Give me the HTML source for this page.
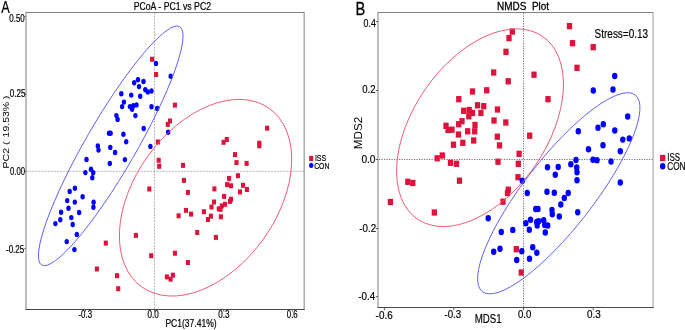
<!DOCTYPE html>
<html lang="en"><head><meta charset="utf-8"><title>PCoA and NMDS plots</title>
<style>
html,body{margin:0;padding:0;background:#fff;}
body{width:685px;height:330px;overflow:hidden;}
svg{display:block;font-family:"Liberation Sans", sans-serif;}
text{white-space:pre;}
</style></head><body>
<svg width="685" height="330" viewBox="0 0 685 330">
<rect x="0" y="0" width="685" height="330" fill="#ffffff"/>

<g id="left-plot">
<line x1="154.5" y1="12.5" x2="154.5" y2="309.5" stroke="#858585" stroke-width="0.6" stroke-dasharray="2 1.1"/>
<line x1="26.0" y1="171.3" x2="304.15" y2="171.3" stroke="#858585" stroke-width="0.6" stroke-dasharray="2 1.1"/>
<rect x="150.05" y="56.80" width="4.1" height="5.0" fill="#dc143c"/>
<rect x="154.05" y="72.00" width="4.1" height="5.0" fill="#dc143c"/>
<rect x="172.85" y="102.60" width="4.1" height="5.0" fill="#dc143c"/>
<rect x="167.95" y="118.50" width="4.1" height="5.0" fill="#dc143c"/>
<rect x="165.75" y="121.90" width="4.1" height="5.0" fill="#dc143c"/>
<rect x="155.85" y="139.50" width="4.1" height="5.0" fill="#dc143c"/>
<rect x="156.65" y="157.80" width="4.1" height="5.0" fill="#dc143c"/>
<rect x="157.15" y="163.80" width="4.1" height="5.0" fill="#dc143c"/>
<rect x="180.95" y="162.90" width="4.1" height="5.0" fill="#dc143c"/>
<rect x="224.75" y="137.00" width="4.1" height="5.0" fill="#dc143c"/>
<rect x="221.55" y="139.80" width="4.1" height="5.0" fill="#dc143c"/>
<rect x="265.05" y="125.70" width="4.1" height="5.0" fill="#dc143c"/>
<rect x="257.25" y="140.70" width="4.1" height="5.0" fill="#dc143c"/>
<rect x="257.25" y="143.30" width="4.1" height="5.0" fill="#dc143c"/>
<rect x="232.95" y="152.10" width="4.1" height="5.0" fill="#dc143c"/>
<rect x="234.45" y="160.10" width="4.1" height="5.0" fill="#dc143c"/>
<rect x="244.55" y="160.90" width="4.1" height="5.0" fill="#dc143c"/>
<rect x="181.85" y="177.90" width="4.1" height="5.0" fill="#dc143c"/>
<rect x="147.25" y="186.50" width="4.1" height="5.0" fill="#dc143c"/>
<rect x="185.85" y="189.90" width="4.1" height="5.0" fill="#dc143c"/>
<rect x="212.35" y="186.40" width="4.1" height="5.0" fill="#dc143c"/>
<rect x="226.95" y="175.90" width="4.1" height="5.0" fill="#dc143c"/>
<rect x="225.05" y="182.10" width="4.1" height="5.0" fill="#dc143c"/>
<rect x="228.95" y="183.30" width="4.1" height="5.0" fill="#dc143c"/>
<rect x="222.05" y="193.90" width="4.1" height="5.0" fill="#dc143c"/>
<rect x="211.95" y="199.50" width="4.1" height="5.0" fill="#dc143c"/>
<rect x="228.95" y="196.70" width="4.1" height="5.0" fill="#dc143c"/>
<rect x="227.95" y="198.90" width="4.1" height="5.0" fill="#dc143c"/>
<rect x="222.95" y="201.80" width="4.1" height="5.0" fill="#dc143c"/>
<rect x="209.45" y="204.50" width="4.1" height="5.0" fill="#dc143c"/>
<rect x="219.75" y="203.40" width="4.1" height="5.0" fill="#dc143c"/>
<rect x="216.75" y="206.30" width="4.1" height="5.0" fill="#dc143c"/>
<rect x="218.55" y="206.90" width="4.1" height="5.0" fill="#dc143c"/>
<rect x="235.95" y="173.20" width="4.1" height="5.0" fill="#dc143c"/>
<rect x="240.95" y="182.80" width="4.1" height="5.0" fill="#dc143c"/>
<rect x="244.85" y="187.00" width="4.1" height="5.0" fill="#dc143c"/>
<rect x="237.95" y="189.40" width="4.1" height="5.0" fill="#dc143c"/>
<rect x="183.95" y="207.90" width="4.1" height="5.0" fill="#dc143c"/>
<rect x="189.05" y="211.60" width="4.1" height="5.0" fill="#dc143c"/>
<rect x="176.55" y="213.30" width="4.1" height="5.0" fill="#dc143c"/>
<rect x="201.85" y="209.20" width="4.1" height="5.0" fill="#dc143c"/>
<rect x="208.85" y="213.60" width="4.1" height="5.0" fill="#dc143c"/>
<rect x="205.95" y="217.00" width="4.1" height="5.0" fill="#dc143c"/>
<rect x="218.85" y="214.30" width="4.1" height="5.0" fill="#dc143c"/>
<rect x="195.15" y="230.00" width="4.1" height="5.0" fill="#dc143c"/>
<rect x="213.85" y="234.90" width="4.1" height="5.0" fill="#dc143c"/>
<rect x="133.85" y="232.90" width="4.1" height="5.0" fill="#dc143c"/>
<rect x="103.75" y="240.60" width="4.1" height="5.0" fill="#dc143c"/>
<rect x="94.85" y="266.50" width="4.1" height="5.0" fill="#dc143c"/>
<rect x="114.95" y="273.20" width="4.1" height="5.0" fill="#dc143c"/>
<rect x="116.15" y="286.20" width="4.1" height="5.0" fill="#dc143c"/>
<rect x="149.15" y="253.20" width="4.1" height="5.0" fill="#dc143c"/>
<rect x="172.85" y="250.70" width="4.1" height="5.0" fill="#dc143c"/>
<rect x="185.85" y="260.00" width="4.1" height="5.0" fill="#dc143c"/>
<rect x="164.85" y="274.40" width="4.1" height="5.0" fill="#dc143c"/>
<rect x="170.85" y="272.70" width="4.1" height="5.0" fill="#dc143c"/>
<rect x="168.55" y="276.70" width="4.1" height="5.0" fill="#dc143c"/>
<ellipse cx="156.00" cy="63.40" rx="2.2" ry="2.7" fill="#0000ff"/>
<ellipse cx="170.70" cy="76.20" rx="2.2" ry="2.7" fill="#0000ff"/>
<ellipse cx="138.00" cy="79.70" rx="2.2" ry="2.7" fill="#0000ff"/>
<ellipse cx="134.20" cy="82.80" rx="2.2" ry="2.7" fill="#0000ff"/>
<ellipse cx="143.50" cy="81.50" rx="2.2" ry="2.7" fill="#0000ff"/>
<ellipse cx="139.00" cy="86.60" rx="2.2" ry="2.7" fill="#0000ff"/>
<ellipse cx="145.30" cy="89.70" rx="2.2" ry="2.7" fill="#0000ff"/>
<ellipse cx="147.80" cy="91.90" rx="2.2" ry="2.7" fill="#0000ff"/>
<ellipse cx="151.50" cy="91.00" rx="2.2" ry="2.7" fill="#0000ff"/>
<ellipse cx="121.30" cy="93.80" rx="2.2" ry="2.7" fill="#0000ff"/>
<ellipse cx="131.20" cy="95.10" rx="2.2" ry="2.7" fill="#0000ff"/>
<ellipse cx="140.20" cy="96.20" rx="2.2" ry="2.7" fill="#0000ff"/>
<ellipse cx="123.90" cy="102.10" rx="2.2" ry="2.7" fill="#0000ff"/>
<ellipse cx="122.10" cy="106.60" rx="2.2" ry="2.7" fill="#0000ff"/>
<ellipse cx="129.90" cy="106.60" rx="2.2" ry="2.7" fill="#0000ff"/>
<ellipse cx="133.30" cy="105.80" rx="2.2" ry="2.7" fill="#0000ff"/>
<ellipse cx="136.50" cy="104.90" rx="2.2" ry="2.7" fill="#0000ff"/>
<ellipse cx="132.10" cy="109.30" rx="2.2" ry="2.7" fill="#0000ff"/>
<ellipse cx="151.50" cy="106.80" rx="2.2" ry="2.7" fill="#0000ff"/>
<ellipse cx="157.20" cy="108.50" rx="2.2" ry="2.7" fill="#0000ff"/>
<ellipse cx="116.40" cy="115.60" rx="2.2" ry="2.7" fill="#0000ff"/>
<ellipse cx="135.40" cy="115.60" rx="2.2" ry="2.7" fill="#0000ff"/>
<ellipse cx="117.60" cy="119.40" rx="2.2" ry="2.7" fill="#0000ff"/>
<ellipse cx="143.70" cy="128.50" rx="2.2" ry="2.7" fill="#0000ff"/>
<ellipse cx="109.00" cy="133.20" rx="2.2" ry="2.7" fill="#0000ff"/>
<ellipse cx="110.60" cy="133.20" rx="2.2" ry="2.7" fill="#0000ff"/>
<ellipse cx="123.40" cy="134.20" rx="2.2" ry="2.7" fill="#0000ff"/>
<ellipse cx="126.20" cy="141.80" rx="2.2" ry="2.7" fill="#0000ff"/>
<ellipse cx="97.80" cy="146.00" rx="2.2" ry="2.7" fill="#0000ff"/>
<ellipse cx="98.50" cy="150.10" rx="2.2" ry="2.7" fill="#0000ff"/>
<ellipse cx="110.30" cy="147.40" rx="2.2" ry="2.7" fill="#0000ff"/>
<ellipse cx="115.10" cy="152.50" rx="2.2" ry="2.7" fill="#0000ff"/>
<ellipse cx="150.40" cy="146.40" rx="2.2" ry="2.7" fill="#0000ff"/>
<ellipse cx="168.10" cy="132.20" rx="2.2" ry="2.7" fill="#0000ff"/>
<ellipse cx="124.90" cy="159.60" rx="2.2" ry="2.7" fill="#0000ff"/>
<ellipse cx="109.80" cy="163.50" rx="2.2" ry="2.7" fill="#0000ff"/>
<ellipse cx="91.00" cy="169.30" rx="2.2" ry="2.7" fill="#0000ff"/>
<ellipse cx="93.20" cy="172.80" rx="2.2" ry="2.7" fill="#0000ff"/>
<ellipse cx="92.30" cy="177.80" rx="2.2" ry="2.7" fill="#0000ff"/>
<ellipse cx="86.50" cy="159.50" rx="2.2" ry="2.7" fill="#0000ff"/>
<ellipse cx="85.40" cy="172.60" rx="2.2" ry="2.7" fill="#0000ff"/>
<ellipse cx="74.90" cy="188.20" rx="2.2" ry="2.7" fill="#0000ff"/>
<ellipse cx="69.70" cy="191.40" rx="2.2" ry="2.7" fill="#0000ff"/>
<ellipse cx="82.60" cy="196.80" rx="2.2" ry="2.7" fill="#0000ff"/>
<ellipse cx="67.20" cy="200.60" rx="2.2" ry="2.7" fill="#0000ff"/>
<ellipse cx="74.80" cy="202.10" rx="2.2" ry="2.7" fill="#0000ff"/>
<ellipse cx="93.60" cy="202.20" rx="2.2" ry="2.7" fill="#0000ff"/>
<ellipse cx="93.40" cy="207.20" rx="2.2" ry="2.7" fill="#0000ff"/>
<ellipse cx="68.50" cy="208.20" rx="2.2" ry="2.7" fill="#0000ff"/>
<ellipse cx="61.10" cy="212.30" rx="2.2" ry="2.7" fill="#0000ff"/>
<ellipse cx="79.10" cy="212.50" rx="2.2" ry="2.7" fill="#0000ff"/>
<ellipse cx="71.30" cy="217.60" rx="2.2" ry="2.7" fill="#0000ff"/>
<ellipse cx="60.30" cy="219.70" rx="2.2" ry="2.7" fill="#0000ff"/>
<ellipse cx="55.40" cy="223.60" rx="2.2" ry="2.7" fill="#0000ff"/>
<ellipse cx="72.70" cy="224.50" rx="2.2" ry="2.7" fill="#0000ff"/>
<ellipse cx="76.80" cy="234.40" rx="2.2" ry="2.7" fill="#0000ff"/>
<ellipse cx="66.70" cy="241.60" rx="2.2" ry="2.7" fill="#0000ff"/>
<ellipse cx="74.40" cy="249.60" rx="2.2" ry="2.7" fill="#0000ff"/>
<ellipse cx="0" cy="0" rx="137.7" ry="25.13" transform="translate(110.73,145.85) rotate(-59.94)" fill="none" stroke="#5555ff" stroke-width="0.85"/>
<ellipse cx="0" cy="0" rx="109.69" ry="71.16" transform="translate(205.54,197.7) rotate(-54.41)" fill="none" stroke="#f0506e" stroke-width="0.85"/>
<line x1="26.0" y1="12.0" x2="26.0" y2="310.0" stroke="#808080" stroke-width="1"/>
<line x1="304.15" y1="12.0" x2="304.15" y2="310.0" stroke="#808080" stroke-width="1"/>
<line x1="26.0" y1="12.5" x2="304.15" y2="12.5" stroke="#808080" stroke-width="1"/>
<line x1="25.5" y1="309.5" x2="304.65" y2="309.5" stroke="#484848" stroke-width="1"/>
<line x1="85.5" y1="310" x2="85.5" y2="311.6" stroke="#555" stroke-width="0.9"/>
<line x1="154.5" y1="310" x2="154.5" y2="311.6" stroke="#555" stroke-width="0.9"/>
<line x1="223.8" y1="310" x2="223.8" y2="311.6" stroke="#555" stroke-width="0.9"/>
<line x1="292.3" y1="310" x2="292.3" y2="311.6" stroke="#555" stroke-width="0.9"/>
<line x1="24.3" y1="16.6" x2="25.8" y2="16.6" stroke="#555" stroke-width="0.9"/>
<line x1="24.3" y1="93.95" x2="25.8" y2="93.95" stroke="#555" stroke-width="0.9"/>
<line x1="24.3" y1="171.3" x2="25.8" y2="171.3" stroke="#555" stroke-width="0.9"/>
<line x1="24.3" y1="248.65" x2="25.8" y2="248.65" stroke="#555" stroke-width="0.9"/>
<text x="1.3" y="12.8" font-size="16" textLength="8.50" lengthAdjust="spacingAndGlyphs" fill="#000" stroke="#000" stroke-width="0.22">A</text>
<text x="133.7" y="9.7" font-size="10.6" textLength="77.30" lengthAdjust="spacingAndGlyphs" fill="#000" stroke="#000" stroke-width="0.22">PCoA - PC1 vs PC2</text>
<text x="9.3" y="21.7" font-size="10.2" textLength="15.40" lengthAdjust="spacingAndGlyphs" fill="#000" stroke="#000" stroke-width="0.22">0.50</text>
<text x="9.8" y="96.6" font-size="10.2" textLength="15.70" lengthAdjust="spacingAndGlyphs" fill="#000" stroke="#000" stroke-width="0.22">0.25</text>
<text x="10.0" y="174.6" font-size="10.2" textLength="15.10" lengthAdjust="spacingAndGlyphs" fill="#000" stroke="#000" stroke-width="0.22">0.00</text>
<text x="6.0" y="252.7" font-size="10.2" textLength="18.10" lengthAdjust="spacingAndGlyphs" fill="#000" stroke="#000" stroke-width="0.22">-0.25</text>
<text x="78.5" y="318.4" font-size="10.2" textLength="13.50" lengthAdjust="spacingAndGlyphs" fill="#000" stroke="#000" stroke-width="0.22">-0.3</text>
<text x="147.5" y="318.4" font-size="10.2" textLength="11.30" lengthAdjust="spacingAndGlyphs" fill="#000" stroke="#000" stroke-width="0.22">0.0</text>
<text x="218.3" y="318.4" font-size="10.2" textLength="11.30" lengthAdjust="spacingAndGlyphs" fill="#000" stroke="#000" stroke-width="0.22">0.3</text>
<text x="286.8" y="318.4" font-size="10.2" textLength="10.90" lengthAdjust="spacingAndGlyphs" fill="#000" stroke="#000" stroke-width="0.22">0.6</text>
<text x="165.4" y="326.7" font-size="10.6" textLength="51.30" lengthAdjust="spacingAndGlyphs" fill="#000" stroke="#000" stroke-width="0.22">PC1(37.41%)</text>
<text x="314.9" y="160.7" font-size="9.8" textLength="11.30" lengthAdjust="spacingAndGlyphs" fill="#000" stroke="#000" stroke-width="0.22">ISS</text>
<text x="314.2" y="169.1" font-size="9.8" textLength="15.10" lengthAdjust="spacingAndGlyphs" fill="#000" stroke="#000" stroke-width="0.22">CON</text>
<g transform="translate(8.7,168.5) scale(0.88,1) rotate(-90)"><text x="0" y="0" font-size="10.6" textLength="20.50" lengthAdjust="spacingAndGlyphs" fill="#000">PC2</text></g>
<g transform="translate(8.0,145.1) scale(0.88,1) rotate(-90)"><text x="0" y="0" font-size="9.2" textLength="3.60" lengthAdjust="spacingAndGlyphs" fill="#000">(</text></g>
<g transform="translate(8.7,137.4) scale(0.88,1) rotate(-90)"><text x="0" y="0" font-size="10.6" textLength="35.50" lengthAdjust="spacingAndGlyphs" fill="#000">19.53%</text></g>
<g transform="translate(8.0,99.2) scale(0.88,1) rotate(-90)"><text x="0" y="0" font-size="9.2" textLength="3.60" lengthAdjust="spacingAndGlyphs" fill="#000">)</text></g>
<rect x="309.15" y="156.00" width="4.1" height="5.0" fill="#dc143c"/>
<ellipse cx="311.20" cy="165.40" rx="2.2" ry="2.6" fill="#0000ff"/>
</g>
<g id="right-plot">
<rect x="509.65" y="28.45" width="5.3" height="6.3" fill="#dc143c"/>
<rect x="506.35" y="34.95" width="5.3" height="6.3" fill="#dc143c"/>
<rect x="503.35" y="48.65" width="5.3" height="6.3" fill="#dc143c"/>
<rect x="491.05" y="69.35" width="5.3" height="6.3" fill="#dc143c"/>
<rect x="505.55" y="78.15" width="5.3" height="6.3" fill="#dc143c"/>
<rect x="531.35" y="71.55" width="5.3" height="6.3" fill="#dc143c"/>
<rect x="545.35" y="96.05" width="5.3" height="6.3" fill="#dc143c"/>
<rect x="484.05" y="87.15" width="5.3" height="6.3" fill="#dc143c"/>
<rect x="469.85" y="88.35" width="5.3" height="6.3" fill="#dc143c"/>
<rect x="456.15" y="96.05" width="5.3" height="6.3" fill="#dc143c"/>
<rect x="474.85" y="102.15" width="5.3" height="6.3" fill="#dc143c"/>
<rect x="481.05" y="103.05" width="5.3" height="6.3" fill="#dc143c"/>
<rect x="494.85" y="106.35" width="5.3" height="6.3" fill="#dc143c"/>
<rect x="466.55" y="106.85" width="5.3" height="6.3" fill="#dc143c"/>
<rect x="461.05" y="107.65" width="5.3" height="6.3" fill="#dc143c"/>
<rect x="469.85" y="109.85" width="5.3" height="6.3" fill="#dc143c"/>
<rect x="478.25" y="109.85" width="5.3" height="6.3" fill="#dc143c"/>
<rect x="466.15" y="113.15" width="5.3" height="6.3" fill="#dc143c"/>
<rect x="491.35" y="117.35" width="5.3" height="6.3" fill="#dc143c"/>
<rect x="503.15" y="119.35" width="5.3" height="6.3" fill="#dc143c"/>
<rect x="459.35" y="118.05" width="5.3" height="6.3" fill="#dc143c"/>
<rect x="456.05" y="121.05" width="5.3" height="6.3" fill="#dc143c"/>
<rect x="472.35" y="121.85" width="5.3" height="6.3" fill="#dc143c"/>
<rect x="443.35" y="122.65" width="5.3" height="6.3" fill="#dc143c"/>
<rect x="445.35" y="126.85" width="5.3" height="6.3" fill="#dc143c"/>
<rect x="449.35" y="126.55" width="5.3" height="6.3" fill="#dc143c"/>
<rect x="465.05" y="128.15" width="5.3" height="6.3" fill="#dc143c"/>
<rect x="472.05" y="128.15" width="5.3" height="6.3" fill="#dc143c"/>
<rect x="455.85" y="131.35" width="5.3" height="6.3" fill="#dc143c"/>
<rect x="494.65" y="133.55" width="5.3" height="6.3" fill="#dc143c"/>
<rect x="527.05" y="132.55" width="5.3" height="6.3" fill="#dc143c"/>
<rect x="471.05" y="137.35" width="5.3" height="6.3" fill="#dc143c"/>
<rect x="460.15" y="139.65" width="5.3" height="6.3" fill="#dc143c"/>
<rect x="450.85" y="141.55" width="5.3" height="6.3" fill="#dc143c"/>
<rect x="496.85" y="142.25" width="5.3" height="6.3" fill="#dc143c"/>
<rect x="439.65" y="152.35" width="5.3" height="6.3" fill="#dc143c"/>
<rect x="434.55" y="155.15" width="5.3" height="6.3" fill="#dc143c"/>
<rect x="447.85" y="159.65" width="5.3" height="6.3" fill="#dc143c"/>
<rect x="453.85" y="160.65" width="5.3" height="6.3" fill="#dc143c"/>
<rect x="456.85" y="177.55" width="5.3" height="6.3" fill="#dc143c"/>
<rect x="405.15" y="178.65" width="5.3" height="6.3" fill="#dc143c"/>
<rect x="410.15" y="179.85" width="5.3" height="6.3" fill="#dc143c"/>
<rect x="387.75" y="198.85" width="5.3" height="6.3" fill="#dc143c"/>
<rect x="431.65" y="209.35" width="5.3" height="6.3" fill="#dc143c"/>
<rect x="516.45" y="150.65" width="5.3" height="6.3" fill="#dc143c"/>
<rect x="495.35" y="158.55" width="5.3" height="6.3" fill="#dc143c"/>
<rect x="515.65" y="160.65" width="5.3" height="6.3" fill="#dc143c"/>
<rect x="515.35" y="174.05" width="5.3" height="6.3" fill="#dc143c"/>
<rect x="505.65" y="186.55" width="5.3" height="6.3" fill="#dc143c"/>
<rect x="504.85" y="189.85" width="5.3" height="6.3" fill="#dc143c"/>
<rect x="500.35" y="198.55" width="5.3" height="6.3" fill="#dc143c"/>
<rect x="513.65" y="246.05" width="5.3" height="6.3" fill="#dc143c"/>
<rect x="518.65" y="269.35" width="5.3" height="6.3" fill="#dc143c"/>
<rect x="566.85" y="22.95" width="5.3" height="6.3" fill="#dc143c"/>
<rect x="569.85" y="40.05" width="5.3" height="6.3" fill="#dc143c"/>
<rect x="590.55" y="44.05" width="5.3" height="6.3" fill="#dc143c"/>
<rect x="574.35" y="64.65" width="5.3" height="6.3" fill="#dc143c"/>
<line x1="523.5" y1="13" x2="523.5" y2="307" stroke="#707070" stroke-width="1" stroke-dasharray="1.2 1.3"/>
<line x1="379" y1="159.5" x2="653" y2="159.5" stroke="#707070" stroke-width="1" stroke-dasharray="1.2 1.3"/>
<ellipse cx="488.20" cy="218.30" rx="2.7" ry="3.2" fill="#0000ff"/>
<ellipse cx="522.30" cy="180.80" rx="2.7" ry="3.2" fill="#0000ff"/>
<ellipse cx="547.50" cy="167.20" rx="2.7" ry="3.2" fill="#0000ff"/>
<ellipse cx="558.20" cy="167.00" rx="2.7" ry="3.2" fill="#0000ff"/>
<ellipse cx="555.30" cy="174.80" rx="2.7" ry="3.2" fill="#0000ff"/>
<ellipse cx="570.80" cy="164.30" rx="2.7" ry="3.2" fill="#0000ff"/>
<ellipse cx="576.00" cy="159.90" rx="2.7" ry="3.2" fill="#0000ff"/>
<ellipse cx="576.70" cy="167.50" rx="2.7" ry="3.2" fill="#0000ff"/>
<ellipse cx="577.00" cy="172.20" rx="2.7" ry="3.2" fill="#0000ff"/>
<ellipse cx="577.00" cy="180.20" rx="2.7" ry="3.2" fill="#0000ff"/>
<ellipse cx="588.50" cy="149.30" rx="2.7" ry="3.2" fill="#0000ff"/>
<ellipse cx="593.00" cy="159.70" rx="2.7" ry="3.2" fill="#0000ff"/>
<ellipse cx="597.00" cy="160.30" rx="2.7" ry="3.2" fill="#0000ff"/>
<ellipse cx="603.00" cy="145.30" rx="2.7" ry="3.2" fill="#0000ff"/>
<ellipse cx="527.30" cy="193.00" rx="2.7" ry="3.2" fill="#0000ff"/>
<ellipse cx="547.00" cy="191.70" rx="2.7" ry="3.2" fill="#0000ff"/>
<ellipse cx="554.30" cy="192.80" rx="2.7" ry="3.2" fill="#0000ff"/>
<ellipse cx="568.20" cy="193.00" rx="2.7" ry="3.2" fill="#0000ff"/>
<ellipse cx="564.30" cy="198.00" rx="2.7" ry="3.2" fill="#0000ff"/>
<ellipse cx="560.80" cy="204.50" rx="2.7" ry="3.2" fill="#0000ff"/>
<ellipse cx="535.70" cy="209.00" rx="2.7" ry="3.2" fill="#0000ff"/>
<ellipse cx="538.00" cy="209.00" rx="2.7" ry="3.2" fill="#0000ff"/>
<ellipse cx="552.00" cy="210.00" rx="2.7" ry="3.2" fill="#0000ff"/>
<ellipse cx="552.30" cy="214.30" rx="2.7" ry="3.2" fill="#0000ff"/>
<ellipse cx="559.30" cy="216.50" rx="2.7" ry="3.2" fill="#0000ff"/>
<ellipse cx="577.70" cy="212.20" rx="2.7" ry="3.2" fill="#0000ff"/>
<ellipse cx="530.50" cy="219.70" rx="2.7" ry="3.2" fill="#0000ff"/>
<ellipse cx="525.80" cy="223.30" rx="2.7" ry="3.2" fill="#0000ff"/>
<ellipse cx="536.70" cy="222.00" rx="2.7" ry="3.2" fill="#0000ff"/>
<ellipse cx="538.70" cy="221.30" rx="2.7" ry="3.2" fill="#0000ff"/>
<ellipse cx="537.20" cy="225.50" rx="2.7" ry="3.2" fill="#0000ff"/>
<ellipse cx="543.70" cy="220.30" rx="2.7" ry="3.2" fill="#0000ff"/>
<ellipse cx="544.70" cy="225.00" rx="2.7" ry="3.2" fill="#0000ff"/>
<ellipse cx="547.70" cy="225.50" rx="2.7" ry="3.2" fill="#0000ff"/>
<ellipse cx="529.30" cy="229.80" rx="2.7" ry="3.2" fill="#0000ff"/>
<ellipse cx="545.30" cy="232.50" rx="2.7" ry="3.2" fill="#0000ff"/>
<ellipse cx="512.80" cy="229.90" rx="2.7" ry="3.2" fill="#0000ff"/>
<ellipse cx="501.30" cy="232.00" rx="2.7" ry="3.2" fill="#0000ff"/>
<ellipse cx="500.00" cy="248.70" rx="2.7" ry="3.2" fill="#0000ff"/>
<ellipse cx="493.70" cy="251.70" rx="2.7" ry="3.2" fill="#0000ff"/>
<ellipse cx="521.80" cy="251.20" rx="2.7" ry="3.2" fill="#0000ff"/>
<ellipse cx="532.70" cy="247.30" rx="2.7" ry="3.2" fill="#0000ff"/>
<ellipse cx="536.80" cy="252.70" rx="2.7" ry="3.2" fill="#0000ff"/>
<ellipse cx="516.70" cy="260.00" rx="2.7" ry="3.2" fill="#0000ff"/>
<ellipse cx="529.50" cy="258.70" rx="2.7" ry="3.2" fill="#0000ff"/>
<ellipse cx="614.70" cy="76.00" rx="2.7" ry="3.2" fill="#0000ff"/>
<ellipse cx="593.30" cy="90.50" rx="2.7" ry="3.2" fill="#0000ff"/>
<ellipse cx="613.00" cy="89.50" rx="2.7" ry="3.2" fill="#0000ff"/>
<ellipse cx="627.70" cy="116.50" rx="2.7" ry="3.2" fill="#0000ff"/>
<ellipse cx="603.30" cy="124.30" rx="2.7" ry="3.2" fill="#0000ff"/>
<ellipse cx="598.00" cy="127.70" rx="2.7" ry="3.2" fill="#0000ff"/>
<ellipse cx="578.30" cy="131.30" rx="2.7" ry="3.2" fill="#0000ff"/>
<ellipse cx="614.80" cy="130.50" rx="2.7" ry="3.2" fill="#0000ff"/>
<ellipse cx="622.80" cy="139.60" rx="2.7" ry="3.2" fill="#0000ff"/>
<ellipse cx="629.30" cy="138.40" rx="2.7" ry="3.2" fill="#0000ff"/>
<ellipse cx="620.30" cy="151.30" rx="2.7" ry="3.2" fill="#0000ff"/>
<ellipse cx="611.00" cy="161.50" rx="2.7" ry="3.2" fill="#0000ff"/>
<ellipse cx="620.30" cy="182.50" rx="2.7" ry="3.2" fill="#0000ff"/>
<ellipse cx="0" cy="0" rx="124.54" ry="34.6" transform="translate(558.78,193.29) rotate(-52.13)" fill="none" stroke="#5555ff" stroke-width="0.85"/>
<ellipse cx="0" cy="0" rx="110.72" ry="66.93" transform="translate(480.02,127.71) rotate(-55.58)" fill="none" stroke="#f0506e" stroke-width="0.85"/>
<line x1="378.0" y1="12.0" x2="378.0" y2="308.0" stroke="#808080" stroke-width="1"/>
<line x1="653.05" y1="12.0" x2="653.05" y2="308.0" stroke="#9a9a9a" stroke-width="1"/>
<line x1="378.0" y1="12.5" x2="653.05" y2="12.5" stroke="#808080" stroke-width="1"/>
<line x1="377.5" y1="307.5" x2="653.55" y2="307.5" stroke="#484848" stroke-width="1"/>
<line x1="375.8" y1="21.6" x2="378" y2="21.6" stroke="#555" stroke-width="1"/>
<line x1="375.8" y1="90.5" x2="378" y2="90.5" stroke="#555" stroke-width="1"/>
<line x1="375.8" y1="159.5" x2="378" y2="159.5" stroke="#555" stroke-width="1"/>
<line x1="375.8" y1="228.6" x2="378" y2="228.6" stroke="#555" stroke-width="1"/>
<line x1="375.8" y1="296.6" x2="378" y2="296.6" stroke="#555" stroke-width="1"/>
<line x1="384.4" y1="308" x2="384.4" y2="310.2" stroke="#555" stroke-width="1"/>
<line x1="453.9" y1="308" x2="453.9" y2="310.2" stroke="#555" stroke-width="1"/>
<line x1="523.5" y1="308" x2="523.5" y2="310.2" stroke="#555" stroke-width="1"/>
<line x1="593.2" y1="308" x2="593.2" y2="310.2" stroke="#555" stroke-width="1"/>
<text x="355.5" y="15.0" font-size="19.2" textLength="9.80" lengthAdjust="spacingAndGlyphs" fill="#000" stroke="#000" stroke-width="0.3">B</text>
<text x="497.0" y="10.4" font-size="11.0" textLength="52.10" lengthAdjust="spacingAndGlyphs" fill="#000" stroke="#000" stroke-width="0.3">NMDS  Plot</text>
<text x="594.6" y="38.2" font-size="12.3" textLength="53.50" lengthAdjust="spacingAndGlyphs" fill="#000" stroke="#000" stroke-width="0.18">Stress=0.13</text>
<text x="363.6" y="26.7" font-size="10.9" textLength="12.30" lengthAdjust="spacingAndGlyphs" fill="#000" stroke="#000" stroke-width="0.18">0.4</text>
<text x="362.2" y="93.3" font-size="10.8" textLength="13.30" lengthAdjust="spacingAndGlyphs" fill="#000" stroke="#000" stroke-width="0.18">0.2</text>
<text x="361.4" y="163.4" font-size="10.8" textLength="14.10" lengthAdjust="spacingAndGlyphs" fill="#000" stroke="#000" stroke-width="0.18">0.0</text>
<text x="359.3" y="232.0" font-size="10.8" textLength="16.80" lengthAdjust="spacingAndGlyphs" fill="#000" stroke="#000" stroke-width="0.18">-0.2</text>
<text x="358.3" y="299.9" font-size="10.8" textLength="17.00" lengthAdjust="spacingAndGlyphs" fill="#000" stroke="#000" stroke-width="0.18">-0.4</text>
<text x="375.6" y="318.5" font-size="10.8" textLength="17.10" lengthAdjust="spacingAndGlyphs" fill="#000" stroke="#000" stroke-width="0.18">-0.6</text>
<text x="444.5" y="317.9" font-size="10.8" textLength="16.70" lengthAdjust="spacingAndGlyphs" fill="#000" stroke="#000" stroke-width="0.18">-0.3</text>
<text x="518.0" y="318.2" font-size="10.8" textLength="13.30" lengthAdjust="spacingAndGlyphs" fill="#000" stroke="#000" stroke-width="0.18">0.0</text>
<text x="587.1" y="318.2" font-size="10.8" textLength="13.80" lengthAdjust="spacingAndGlyphs" fill="#000" stroke="#000" stroke-width="0.18">0.3</text>
<text x="474.7" y="323.3" font-size="12.0" textLength="27.00" lengthAdjust="spacingAndGlyphs" fill="#000" stroke="#000" stroke-width="0.18">MDS1</text>
<text x="667.2" y="160.8" font-size="10.4" textLength="12.80" lengthAdjust="spacingAndGlyphs" fill="#000" stroke="#000" stroke-width="0.18">ISS</text>
<text x="667.2" y="170.3" font-size="10.4" textLength="18.30" lengthAdjust="spacingAndGlyphs" fill="#000" stroke="#000" stroke-width="0.18">CON</text>
<g transform="translate(362.4,149.2) scale(0.93,1) rotate(-90)"><text x="0" y="0" font-size="11.7" textLength="32.40" lengthAdjust="spacingAndGlyphs" fill="#000">MDS2</text></g>
<rect x="660.05" y="154.85" width="5.3" height="6.3" fill="#dc143c"/>
<ellipse cx="662.70" cy="166.30" rx="2.7" ry="3.2" fill="#0000ff"/>
</g>
</svg>
</body></html>
